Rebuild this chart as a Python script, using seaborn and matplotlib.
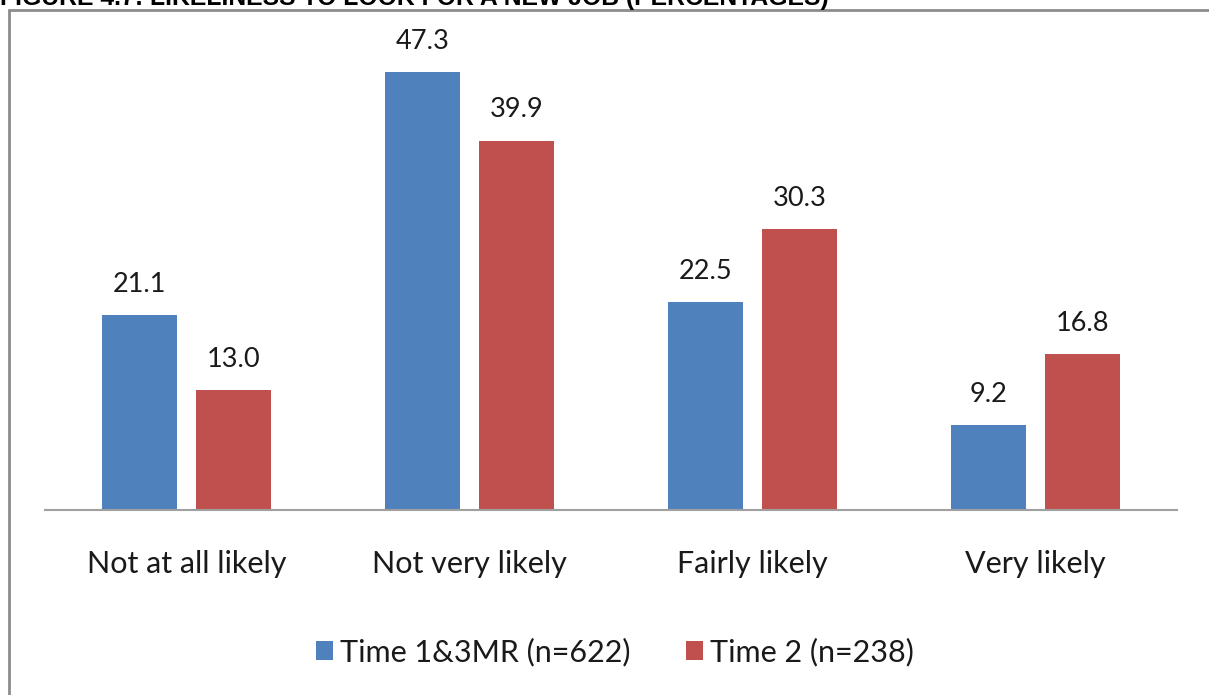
import pandas as pd
import matplotlib
matplotlib.use("Agg")
import matplotlib.pyplot as plt
import seaborn as sns
from matplotlib.lines import Line2D
from matplotlib.patches import Patch

# Data
categories = ["Not at all likely", "Not very likely", "Fairly likely", "Very likely"]
series_names = ["Time 1&3MR (n=622)", "Time 2 (n=238)"]
time1_values = [21.1, 47.3, 22.5, 9.2]
time2_values = [13.0, 39.9, 30.3, 16.8]
colors = ["#4F81BD", "#C0504D"]
title = "FIGURE 4.7: LIKELINESS TO LOOK FOR A NEW JOB (PERCENTAGES)"

df = pd.DataFrame({
    "category": categories * 2,
    "series": [series_names[0]] * 4 + [series_names[1]] * 4,
    "value": time1_values + time2_values,
})

sns.set_style("white")
plt.rcParams["font.family"] = ["Lato", "DejaVu Sans"]

fig = plt.figure(figsize=(12.09, 6.95), dpi=100)
ax = fig.add_axes([45 / 1209, 185 / 695, 1132 / 1209, 463 / 695])

sns.barplot(data=df, x="category", y="value", hue="series",
            palette=colors, saturation=1, width=0.664, gap=0.2, ax=ax,
            edgecolor="none", legend=False)

for cont in ax.containers:
    ax.bar_label(cont, fmt="%.1f", padding=13, fontsize=19.5, color="#1a1a1a")

ax.set_ylim(0, 50)
ax.set_xlim(-0.5, 3.5)
ax.set_xlabel("")
ax.set_ylabel("")
ax.set_yticks([])
for side in ["top", "right", "left"]:
    ax.spines[side].set_visible(False)
ax.spines["bottom"].set_color("#a0a0a0")
ax.spines["bottom"].set_linewidth(1.5)
ax.tick_params(axis="x", length=0, pad=29, labelsize=22, labelcolor="#1a1a1a")

handles = [Patch(facecolor=c, edgecolor="none") for c in colors]
fig.legend(handles, series_names, loc="center", bbox_to_anchor=(615 / 1209, 1 - 652 / 695),
           ncol=2, frameon=False, fontsize=22, handlelength=0.55, handleheight=0.55,
           handletextpad=0.25, columnspacing=1.8, labelcolor="#1a1a1a")

# outer frame of the chart area (cropped on the right/bottom)
fig.add_artist(Line2D([8.5 / 1209, 8.5 / 1209], [0, 1 - 9.5 / 695],
                      transform=fig.transFigure, color="#8c8c8c", linewidth=2))
fig.add_artist(Line2D([8.5 / 1209, 1], [1 - 9.5 / 695, 1 - 9.5 / 695],
                      transform=fig.transFigure, color="#8c8c8c", linewidth=2))

# title, cut off at the top edge like the source
fig.text(0.0, 1 - 5 / 695, title, ha="left", va="baseline", fontsize=17.8,
         fontweight="bold", family=["Liberation Sans", "DejaVu Sans"], color="black")

fig.savefig("out.png", dpi=100)
